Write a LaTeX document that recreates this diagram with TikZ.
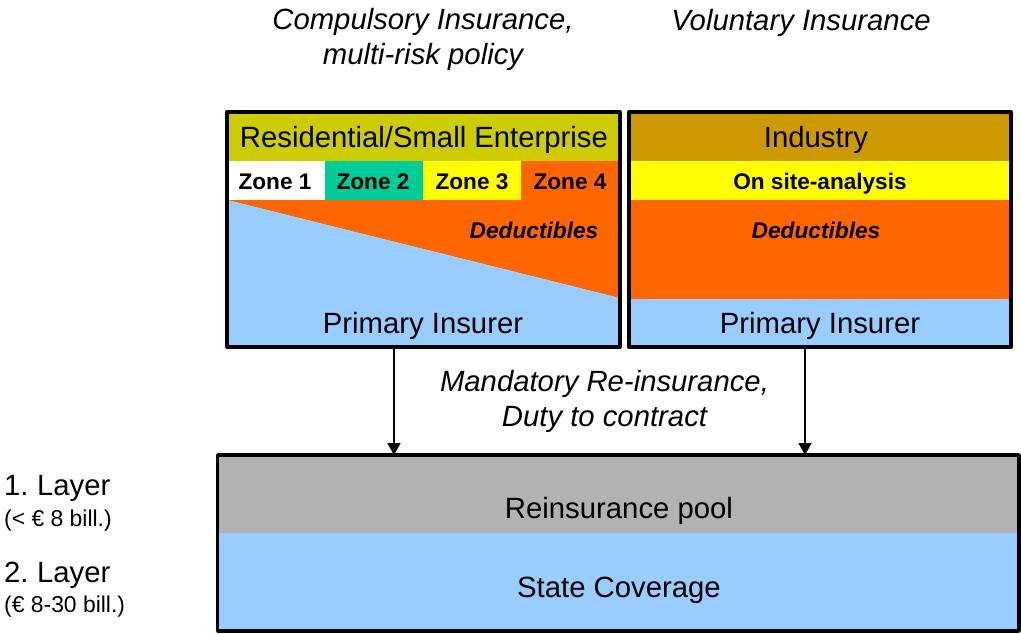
\documentclass[tikz,border=0pt]{standalone}
\usepackage{fontspec}
\setmainfont{Liberation Sans}
\usetikzlibrary{arrows.meta}
\definecolor{cOlive}{HTML}{CCCC00}
\definecolor{cTeal}{HTML}{00CC99}
\definecolor{cYellow}{HTML}{FFFF00}
\definecolor{cOrange}{HTML}{FF6600}
\definecolor{cBlue}{HTML}{99CCFF}
\definecolor{cOchre}{HTML}{CC9900}
\definecolor{cGrey}{HTML}{B2B2B2}
\tikzset{
  big/.style={font=\fontsize{29.3}{35}\selectfont, inner sep=0pt, anchor=base},
  bigit/.style={font=\fontsize{29.3}{35}\selectfont\itshape, inner sep=0pt, align=center},
  zonetxt/.style={font=\fontsize{22.6}{26}\selectfont\bfseries, inner sep=0pt, anchor=base},
  dedtxt/.style={font=\fontsize{22.7}{26}\selectfont\bfseries\itshape, inner sep=0pt, anchor=base},
  smalltxt/.style={font=\fontsize{22.9}{26}\selectfont, inner sep=0pt, anchor=base west},
  layertxt/.style={big, anchor=base west},
  frame/.style={draw=black, line width=4pt, line join=round, fill=none, inner sep=0pt, outer sep=0pt, minimum width=#1},
  link/.style={draw=black, line width=1.4pt, -{Triangle[length=12pt,width=13pt]}}
}
% \band{fill}{x0}{y0}{x1}{y1}
\newcommand{\band}[5]{\fill[#1] (#2,#3) rectangle (#4,#5);}
\begin{document}
\begin{tikzpicture}[x=1pt,y=-1pt]
\useasboundingbox (0,0) rectangle (1021,634);
% left box
\band{cOlive}{227}{112}{619.5}{161}
\band{white}{227}{161}{325}{201}
\band{cTeal}{325}{161}{423}{201}
\band{cYellow}{423}{161}{521}{201}
\band{cOrange}{521}{161}{619.5}{201}
\fill[cOrange] (227,200) -- (619.5,200) -- (619.5,298) -- cycle;
\fill[cBlue] (227,200) -- (619.5,298) -- (619.5,347) -- (227,347) -- cycle;
\node[frame=392.5pt, minimum height=235pt, anchor=north west] (boxL) at (227,112) {};
% right box
\band{cOchre}{629}{112}{1011}{161}
\band{cYellow}{629}{161}{1011}{200}
\band{cOrange}{629}{200}{1011}{299}
\band{cBlue}{629}{299}{1011}{347}
\node[frame=382pt, minimum height=235pt, anchor=north west] (boxR) at (629,112) {};
% bottom box
\band{cGrey}{217.7}{455}{1019}{533}
\band{cBlue}{217.7}{533}{1019}{631}
\node[frame=801.3pt, minimum height=176pt, anchor=north west, line width=3.5pt] (pool) at (217.7,455) {};
% texts
\node[bigit] (tComp) at (423,39) {Compulsory Insurance,\\multi-risk policy};
\node[bigit] (tVol) at (801,23) {Voluntary Insurance};
\node[big] (tRes) at (424,147) {Residential/Small Enterprise};
\node[big] (tInd) at (816,147) {Industry};
\node[zonetxt] (z1) at (275,189) {Zone 1};
\node[zonetxt] (z2) at (373,189) {Zone 2};
\node[zonetxt] (z3) at (472,189) {Zone 3};
\node[zonetxt] (z4) at (570,189) {Zone 4};
\node[zonetxt] (tSite) at (820,189) {On site-analysis};
\node[dedtxt] (dL) at (534,238) {Deductibles};
\node[dedtxt] (dR) at (816,238) {Deductibles};
\node[big] (pL) at (423,333) {Primary Insurer};
\node[big] (pR) at (820,333) {Primary Insurer};
\node[bigit] (tMand) at (604.5,401.5) {Mandatory Re-insurance,\\Duty to contract};
\node[big] (tPool) at (619,518) {Reinsurance pool};
\node[big] (tState) at (619,597) {State Coverage};
\node[layertxt] (l1) at (4,495) {1.\hspace{8.5pt}Layer};
\node[smalltxt] (s1) at (4,526) {(< € 8 bill.)};
\node[layertxt] (l2) at (4,582) {2.\hspace{8.5pt}Layer};
\node[smalltxt] (s2) at (4,612) {(€ 8-30 bill.)};
% connectors
\coordinate (tapL) at (394,347);
\coordinate (tapR) at (805,347);
\draw[link] (boxL.south -| tapL) -- (pool.north -| tapL);
\draw[link] (boxR.south -| tapR) -- (pool.north -| tapR);
\end{tikzpicture}
\end{document}
